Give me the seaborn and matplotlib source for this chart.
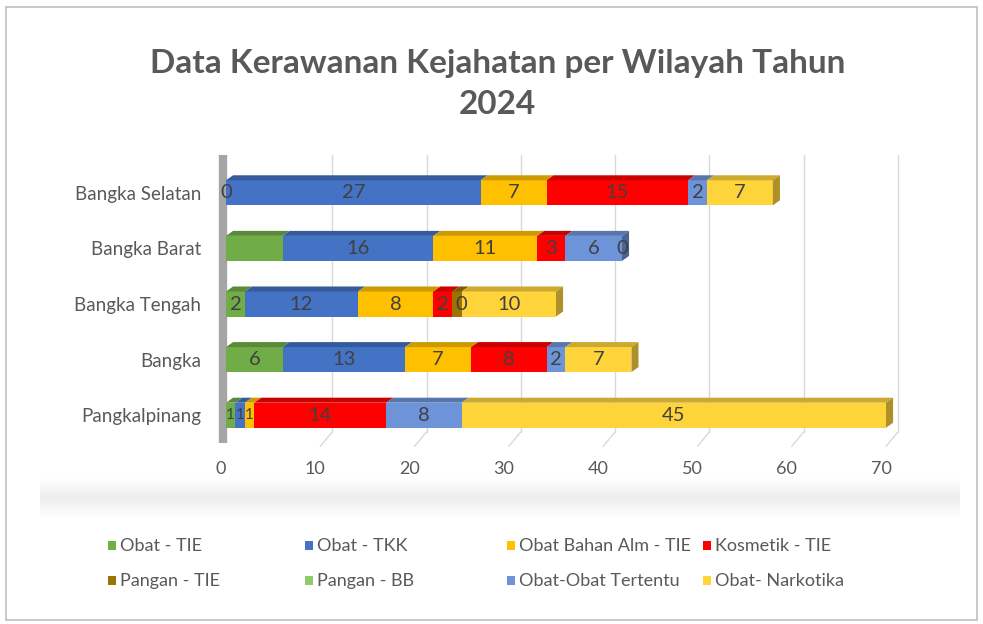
import numpy as np
import pandas as pd
import matplotlib
import matplotlib.pyplot as plt
import matplotlib.transforms as mtransforms
from matplotlib.colors import to_rgb
from matplotlib.patches import Polygon, Rectangle
import seaborn as sns

matplotlib.use("Agg")

regions = ["Bangka Selatan", "Bangka Barat", "Bangka Tengah", "Bangka", "Pangkalpinang"]
series = ["Obat - TIE", "Obat - TKK", "Obat Bahan Alm - TIE", "Kosmetik - TIE",
          "Pangan - TIE", "Pangan - BB", "Obat-Obat Tertentu", "Obat- Narkotika"]

obat_tie = [0, 6, 2, 6, 1]
obat_tkk = [27, 16, 12, 13, 1]
bahan_alm = [7, 11, 8, 7, 1]
kosmetik = [15, 3, 2, 8, 14]
pangan_tie = [0, 0, 1, 0, 0]
pangan_bb = [0, 0, 0, 0, 0]
obat_tertentu = [2, 6, 0, 2, 8]
narkotika = [7, 0, 10, 7, 45]

# labels Excel did not print, and zero values it did print
hidden_labels = {("Bangka Barat", "Obat - TIE"), ("Bangka Tengah", "Pangan - TIE")}
zero_labels = {("Bangka Selatan", "Obat - TIE"), ("Bangka Barat", "Obat- Narkotika"),
               ("Bangka Tengah", "Obat-Obat Tertentu")}

colors = ["#70AD47", "#4472C4", "#FFC000", "#FF0000",
          "#9E7200", "#8FCA6A", "#6D93D8", "#FFD43B"]

sns.set_theme(style="white")
plt.rcParams["font.family"] = ["Lato", "DejaVu Sans"]

W, H = 983, 624
fig = plt.figure(figsize=(W / 100, H / 100), dpi=100)
fig.patch.set_facecolor("white")

# frame of the chart area
fig.patches.append(Rectangle((6 / W, 1 - 620 / H), 971 / W, 613 / H, transform=fig.transFigure,
                             facecolor="none", edgecolor="#BFBFBF", lw=1.2, zorder=-1))

# faint reflection band below the axis
band = fig.add_axes([40 / W, 1 - 518 / H, 920 / W, 40 / H])
grad = np.linspace(0, 1, 50)[:, None] * np.ones((1, 200))
grad = np.minimum(grad, grad[::-1]) * 2
band.imshow(grad, cmap="Greys", vmin=0, vmax=7, aspect="auto")
band.axis("off")

ax = fig.add_axes([226 / W, 1 - 443 / H, 660 / W, 278 / H])
ax.set_facecolor("none")

vals = np.array([obat_tie, obat_tkk, bahan_alm, kosmetik, pangan_tie, pangan_bb, obat_tertentu, narkotika])
cum = np.cumsum(vals, axis=0)
bar_h = 0.45

for i in reversed(range(len(series))):
    d = pd.DataFrame({"Wilayah": regions, "kumulatif": cum[i]})
    sns.barplot(data=d, x="kumulatif", y="Wilayah", orient="h", order=regions, color=colors[i],
                width=bar_h, saturation=1, errorbar=None, linewidth=0, ax=ax, zorder=2)

ax.set_xlim(0, 70)
ax.set_ylim(4.5, -0.5)

# back wall gridlines with the 3d floor diagonals
shift = mtransforms.ScaledTranslation(12 / 100, 0, fig.dpi_scale_trans)
xtr = ax.get_xaxis_transform()
gtrans = xtr + shift
for t in range(10, 80, 10):
    ax.plot([t, t], [0.04, 1.036], transform=gtrans, color="#D9D9D9", lw=1, zorder=0, clip_on=False)
    p0 = gtrans.transform((t, 0.04))
    p1 = xtr.transform((t, -0.012))
    ax.plot([p0[0], p1[0]], [p0[1], p1[1]], transform=None, color="#D9D9D9", lw=1, zorder=0, clip_on=False)

# left wall
wtrans = xtr + mtransforms.ScaledTranslation(-3 / 100, 0, fig.dpi_scale_trans)
ax.plot([0, 0], [0.0, 1.036], transform=wtrans, color="#7F7F7F", lw=6, alpha=0.7,
        solid_capstyle="butt", zorder=1, clip_on=False)

# 3d top faces and end caps
dx, dy = 0.75, 0.09
for j in range(len(regions)):
    top = j - bar_h / 2
    last = None
    for i in range(len(series)):
        v = vals[i][j]
        if v <= 0:
            continue
        x1 = cum[i][j]
        x0 = x1 - v
        dark = tuple(c * 0.8 for c in to_rgb(colors[i]))
        ax.add_patch(Polygon([(x0, top), (x1, top), (x1 + dx, top - dy), (x0 + dx, top - dy)],
                             closed=True, facecolor=dark, edgecolor="none", zorder=3, clip_on=False))
        last = i
    if last is not None:
        xe = cum[-1][j]
        dark = tuple(c * 0.68 for c in to_rgb(colors[last]))
        ax.add_patch(Polygon([(xe, top), (xe + dx, top - dy), (xe + dx, top + bar_h - dy), (xe, top + bar_h)],
                             closed=True, facecolor=dark, edgecolor="none", zorder=3, clip_on=False))

# data labels (narrow slivers get a smaller font so neighbours don't collide)
for i, name in enumerate(series):
    for j, reg in enumerate(regions):
        v = vals[i][j]
        if (reg, name) in hidden_labels:
            continue
        if v == 0 and (reg, name) not in zero_labels:
            continue
        fs = 11 if 0 < v < 2 else 14.5
        ax.text(cum[i][j] - v / 2, j, f"{v}", ha="center", va="center", fontsize=fs,
                color="#404040", zorder=6, clip_on=False)

ax.set_xticks(range(0, 80, 10))
ax.set_xlabel("")
ax.set_ylabel("")
sns.despine(ax=ax, left=True, bottom=True)
ax.tick_params(axis="x", length=0, pad=13, labelsize=13, labelcolor="#595959")
ax.tick_params(axis="y", length=0, pad=18, labelsize=13.5, labelcolor="#595959")
ax.grid(False)
tick_shift = mtransforms.ScaledTranslation(-5 / 100, 0, fig.dpi_scale_trans)
for lab in ax.get_xticklabels():
    lab.set_transform(lab.get_transform() + tick_shift)

fig.text(0.506, 1 - 63 / H, "Data Kerawanan Kejahatan per Wilayah Tahun", ha="center", va="center",
         fontsize=24, fontweight="bold", color="#595959")
fig.text(0.506, 1 - 105 / H, "2024", ha="center", va="center",
         fontsize=24, fontweight="bold", color="#595959")

# legend, laid out like the Excel grid
col_x = [108, 305, 507, 703]
row_y = [546, 581]
for k, name in enumerate(series):
    cx, cy = col_x[k % 4], row_y[k // 4]
    fig.patches.append(Rectangle((cx / W, 1 - (cy + 4) / H), 8 / W, 9 / H, transform=fig.transFigure,
                                 facecolor=colors[k], edgecolor="none"))
    fig.text((cx + 12) / W, 1 - cy / H, name, ha="left", va="center", fontsize=13, color="#595959")

fig.savefig("out.png", dpi=100)
